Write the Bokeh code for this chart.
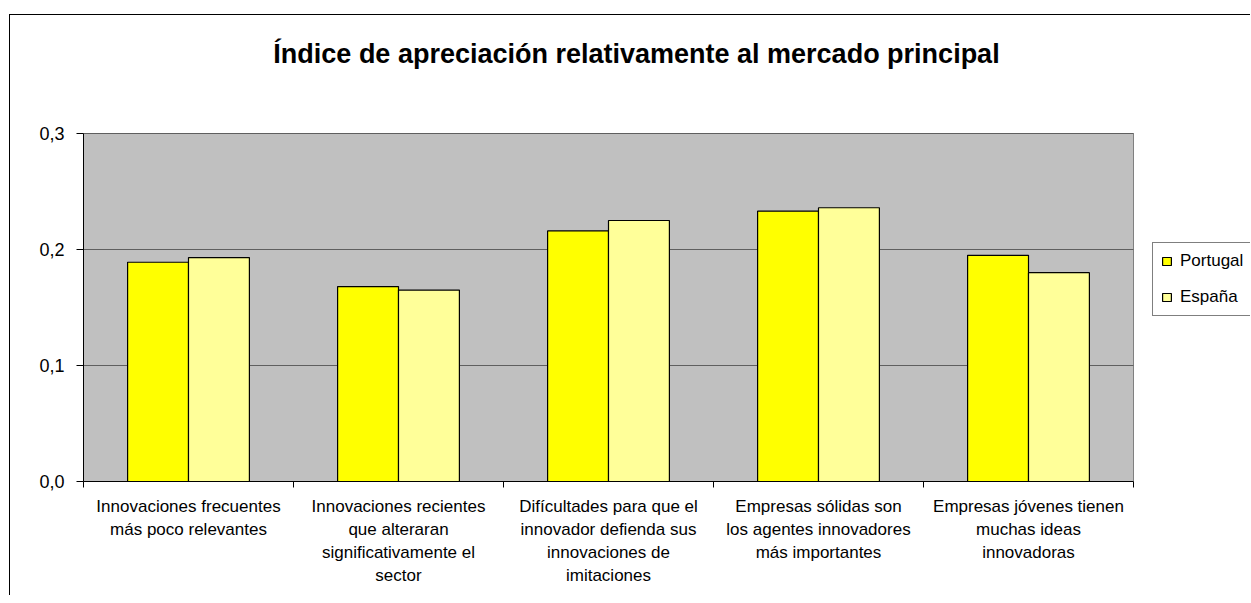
from bokeh.plotting import figure
from bokeh.models import (ColumnDataSource, Range1d, FixedTicker, CustomJSTickFormatter,
                          Legend, LegendItem, Label)
from bokeh.transform import dodge
from bokeh.embed import file_html
from bokeh.resources import INLINE

categories = [
    "Innovaciones frecuentes\nmás poco relevantes",
    "Innovaciones recientes\nque alteraran\nsignificativamente el\nsector",
    "Difícultades para que el\ninnovador defienda sus\ninnovaciones de\nimitaciones",
    "Empresas sólidas son\nlos agentes innovadores\nmás importantes",
    "Empresas jóvenes tienen\nmuchas ideas\ninnovadoras",
]
portugal = [0.189, 0.168, 0.216, 0.233, 0.195]
espana = [0.193, 0.165, 0.225, 0.236, 0.180]
y_ticks = [0.0, 0.1, 0.2, 0.3]
series_names = ["Portugal", "España"]
title_text = "Índice de apreciación relativamente al mercado principal"

FONT = "Liberation Sans"
N = len(categories)
Y_MAX = y_ticks[-1]

# layout in pixels
PLOT_W, PLOT_H = 1050, 348        # grey plot area
FRAME_W, FRAME_H = 1167, 466      # frame extends right (legend) and up (title)
x_end = N * FRAME_W / PLOT_W
y_end = Y_MAX * FRAME_H / PLOT_H

src = ColumnDataSource(dict(
    x=[i + 0.5 for i in range(N)],
    portugal=portugal,
    espana=espana,
))

p = figure(frame_width=FRAME_W, frame_height=FRAME_H, output_backend="svg",
           toolbar_location=None,
           x_range=Range1d(0, x_end), y_range=Range1d(0, y_end),
           min_border_left=73, min_border_right=0, min_border_top=0,
           min_border_bottom=114)
p.styles = {"border-left": "1px solid black", "border-top": "1px solid black",
            "margin-left": "9px", "margin-top": "14px"}
p.title.text = ""
p.background_fill_color = "white"
p.border_fill_color = "white"
p.outline_line_color = None

# grey plot area and its gridlines
p.quad(left=[0], right=[N], bottom=[y_ticks[0]], top=[Y_MAX],
       fill_color="#C0C0C0", line_color="#808080", line_width=1)
p.segment(x0=[0] * (len(y_ticks) - 1), x1=[N] * (len(y_ticks) - 1),
          y0=y_ticks[1:], y1=y_ticks[1:], line_color="#5f5f5f", line_width=1)

r1 = p.vbar(x=dodge("x", -0.145, range=p.x_range), top="portugal", width=0.29, source=src,
            fill_color="#FFFF00", line_color="black", line_width=1.2)
r2 = p.vbar(x=dodge("x", 0.145, range=p.x_range), top="espana", width=0.29, source=src,
            fill_color="#FFFF99", line_color="black", line_width=1.2)

# y axis
p.yaxis.bounds = (y_ticks[0], Y_MAX)
p.yaxis.ticker = FixedTicker(ticks=y_ticks, minor_ticks=[])
p.yaxis.formatter = CustomJSTickFormatter(code="return tick.toFixed(1).replace('.', ',');")
p.yaxis.major_label_text_font = FONT
p.yaxis.major_label_text_font_size = "18px"
p.yaxis.major_label_text_color = "black"
p.yaxis.major_tick_out = 7
p.yaxis.major_tick_in = 0
p.yaxis.major_label_standoff = 12
p.yaxis.axis_line_color = "black"
p.yaxis.major_tick_line_color = "black"

# x axis
p.xaxis.bounds = (0, N)
p.xaxis.ticker = FixedTicker(ticks=[i + 0.5 for i in range(N)],
                             minor_ticks=list(range(N + 1)))
p.xaxis.formatter = CustomJSTickFormatter(args=dict(labels=categories),
                                          code="return labels[Math.floor(tick)];")
p.xaxis.major_tick_out = 0
p.xaxis.major_tick_in = 0
p.xaxis.minor_tick_out = 6
p.xaxis.minor_tick_in = 0
p.xaxis.minor_tick_line_color = "black"
p.xaxis.axis_line_color = "black"
p.xaxis.major_label_text_font = FONT
p.xaxis.major_label_text_font_size = "17px"
p.xaxis.major_label_text_color = "black"
p.xaxis.major_label_text_line_height = 1.22
p.xaxis.major_label_standoff = 9
p.xaxis.major_label_orientation = "horizontal"

p.xgrid.grid_line_color = None
p.ygrid.grid_line_color = None

# title (data units inside the extended frame)
title = Label(x=(636 - 83) / PLOT_W * N, y=(481 - 53) / PLOT_H * Y_MAX,
              text=title_text, text_font=FONT, text_font_size="27px",
              text_font_style="bold", text_align="center", text_baseline="middle",
              text_color="black")
p.add_layout(title)

legend = Legend(items=[LegendItem(label=series_names[0], renderers=[r1]),
                       LegendItem(label=series_names[1], renderers=[r2])],
                location=(1069, 165))
legend.label_text_font = FONT
legend.label_text_font_size = "17px"
legend.label_text_color = "black"
legend.glyph_width = 11
legend.glyph_height = 10
legend.label_height = 20
legend.label_width = 120
legend.spacing = 16
legend.padding = 8
legend.margin = 0
legend.label_standoff = 8
legend.border_line_color = "black"
legend.border_line_width = 1
legend.background_fill_color = "white"
legend.background_fill_alpha = 1
p.add_layout(legend)

open("out.html", "w").write(file_html(p, INLINE))
